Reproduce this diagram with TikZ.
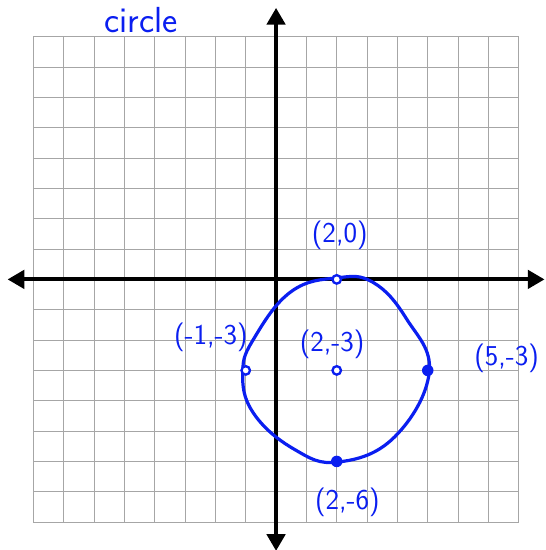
\documentclass[tikz,border=0pt]{standalone}
\usepackage{tikz}
\usetikzlibrary{arrows.meta}
\definecolor{pen}{HTML}{0A1EF0}
\definecolor{gridgray}{HTML}{A6A6A6}

\begin{document}
\begin{tikzpicture}[
    every node/.style={font=\sffamily},
    gridline/.style={draw=gridgray, line width=0.8pt},
    axisline/.style={line width=3.6pt, {Triangle[length=0.55cm, width=0.6cm]}-{Triangle[length=0.55cm, width=0.6cm]}},
    curveline/.style={draw=pen, line width=3pt},
    opendot/.style={circle, draw=pen, line width=2.2pt, fill=white, inner sep=0pt, minimum size=0.28cm},
    filldot/.style={circle, fill=pen, inner sep=0pt, minimum size=0.38cm},
    ptlabel/.style={text=pen, font=\sffamily\fontsize{27}{29}\selectfont},
]
\useasboundingbox (-9.1,-8.92) rectangle (8.87,9.21);
% 16 x 16 grid
\foreach \k in {-8,-7,...,8} {
    \draw[gridline] (\k,-8) -- (\k,8);
    \draw[gridline] (-8,\k) -- (8,\k);
}
\coordinate (xl) at (-8.85,0); \coordinate (xr) at (8.85,0);
\coordinate (yb) at (0,-8.95); \coordinate (yt) at (0,8.95);
\draw[axisline] (xl) -- (xr);
\draw[axisline] (yb) -- (yt);
\node[text=pen, anchor=base, inner sep=0pt, font=\sffamily\fontsize{34}{36}\selectfont] (title) at (-4.45,8.15) {circle};
% hand drawn circle
\draw[curveline] plot[smooth cycle, tension=0.7] coordinates {
    (2,0.05) (0.5,-0.4) (-0.7,-1.9) (-1.1,-3.05) (-0.75,-4.4)
    (0.6,-5.6) (2.05,-6.02) (3.9,-5.2) (5.05,-3.05) (4.3,-1.3) (3.2,-0.1)};
\node[opendot] (top) at (2,0) {};
\node[opendot] (centre) at (2,-3) {};
\node[opendot] (left) at (-1,-3) {};
\node[filldot] (right) at (5,-3) {};
\node[filldot] (bottom) at (2,-6) {};
\node[ptlabel] (toplbl) at (2.1,1.45) {(2,0)};
\node[ptlabel] (centrelbl) at (1.85,-2.15) {(2,-3)};
\node[ptlabel] (leftlbl) at (-2.15,-1.9) {(-1,-3)};
\node[ptlabel] (rightlbl) at (7.6,-2.6) {(5,-3)};
\node[ptlabel] (bottomlbl) at (2.35,-7.35) {(2,-6)};
\end{tikzpicture}
\end{document}
